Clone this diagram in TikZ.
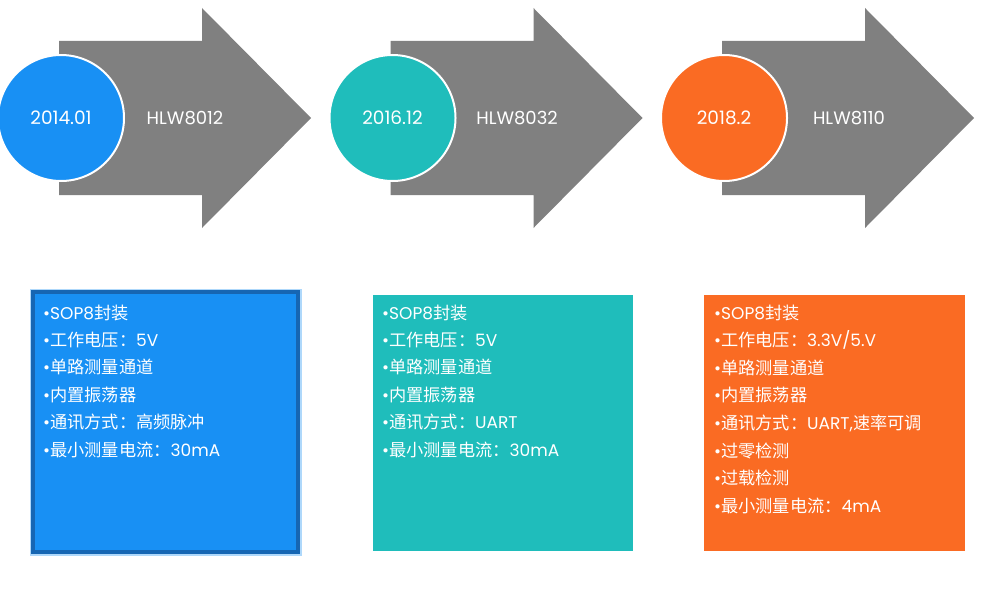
\documentclass[tikz,border=0pt]{standalone}
\usepackage{fontspec}
\setmainfont{Poppins}
\newfontfamily\cjk{Noto Sans CJK SC}
\usetikzlibrary{shadows}
\definecolor{arrowgrey}{HTML}{808080}
\definecolor{cblue}{HTML}{1890F4}
\definecolor{cbluedark}{HTML}{1666B3}
\definecolor{cteal}{HTML}{1FBDBB}
\definecolor{corange}{HTML}{FA6B23}
\tikzset{
  bigarrow/.style={fill=arrowgrey, draw=none},
  datecircle/.style={circle, draw=white, line width=2pt, minimum size=126pt, inner sep=0pt, text=white, font=\fontsize{18.5}{20}\selectfont},
  chiplabel/.style={text=white, font=\fontsize{18}{20}\selectfont},
  infobox/.style={draw=white, line width=4pt, drop shadow={opacity=0.35, shadow xshift=1pt, shadow yshift=-2pt}},
  infoline/.style={anchor=base west, text=white, inner sep=0pt, font=\fontsize{17}{19}\selectfont},
}
\newcommand{\cj}[1]{{\cjk\fontsize{17.2}{19}\selectfont #1}}
\begin{document}
\begin{tikzpicture}[x=1pt, y=-1pt]
\useasboundingbox (0,0) rectangle (1000,602);
% arrows
\foreach \dx/\nm in {0/a1, 331.5/a2, 663/a3} {
  \fill[bigarrow] (59+\dx,41) -- (202+\dx,41) -- (202+\dx,8) -- (311+\dx,118) -- (202+\dx,228) -- (202+\dx,195) -- (59+\dx,195) -- cycle;
}
% circles
\node[datecircle, fill=cblue] (c1) at (61,118) {2014.01};
\node[datecircle, fill=cteal] (c2) at (392.5,118) {2016.12};
\node[datecircle, fill=corange] (c3) at (724,118) {2018.2};
% chip names
\node[chiplabel] (h1) at (185,118) {HLW8012};
\node[chiplabel] (h2) at (517,118) {HLW8032};
\node[chiplabel] (h3) at (849,118) {HLW8110};
% boxes
\fill[cblue!70!white, opacity=0.5] (29.5,288.5) rectangle (301.5,555.5);
\filldraw[fill=cblue, draw=cbluedark, line width=4pt] (33,292) rectangle (298,552);
\filldraw[infobox, fill=cteal] (371,293) rectangle (635,553);
\filldraw[infobox, fill=corange] (702,293) rectangle (967,553);
% box 1 text
\node[infoline] (b1l1) at (43,319) {•SOP8\cj{封装}};
\node[infoline] (b1l2) at (43,346.4) {•\cj{工作电压：}5V};
\node[infoline] (b1l3) at (43,373.8) {•\cj{单路测量通道}};
\node[infoline] (b1l4) at (43,401.2) {•\cj{内置振荡器}};
\node[infoline] (b1l5) at (43,428.6) {•\cj{通讯方式：高频脉冲}};
\node[infoline] (b1l6) at (43,456) {•\cj{最小测量电流：}30mA};
% box 2 text
\node[infoline] (b2l1) at (382,319) {•SOP8\cj{封装}};
\node[infoline] (b2l2) at (382,346.4) {•\cj{工作电压：}5V};
\node[infoline] (b2l3) at (382,373.8) {•\cj{单路测量通道}};
\node[infoline] (b2l4) at (382,401.2) {•\cj{内置振荡器}};
\node[infoline] (b2l5) at (382,428.6) {•\cj{通讯方式：}UART};
\node[infoline] (b2l6) at (382,456) {•\cj{最小测量电流：}30mA};
% box 3 text
\node[infoline] (b3l1) at (714,319) {•SOP8\cj{封装}};
\node[infoline] (b3l2) at (714,346.6) {•\cj{工作电压：}3.3V/5.V};
\node[infoline] (b3l3) at (714,374.2) {•\cj{单路测量通道}};
\node[infoline] (b3l4) at (714,401.8) {•\cj{内置振荡器}};
\node[infoline] (b3l5) at (714,429.4) {•\cj{通讯方式：}UART,\cj{速率可调}};
\node[infoline] (b3l6) at (714,457) {•\cj{过零检测}};
\node[infoline] (b3l7) at (714,484.6) {•\cj{过载检测}};
\node[infoline] (b3l8) at (714,512.2) {•\cj{最小测量电流：}4mA};
\end{tikzpicture}
\end{document}
